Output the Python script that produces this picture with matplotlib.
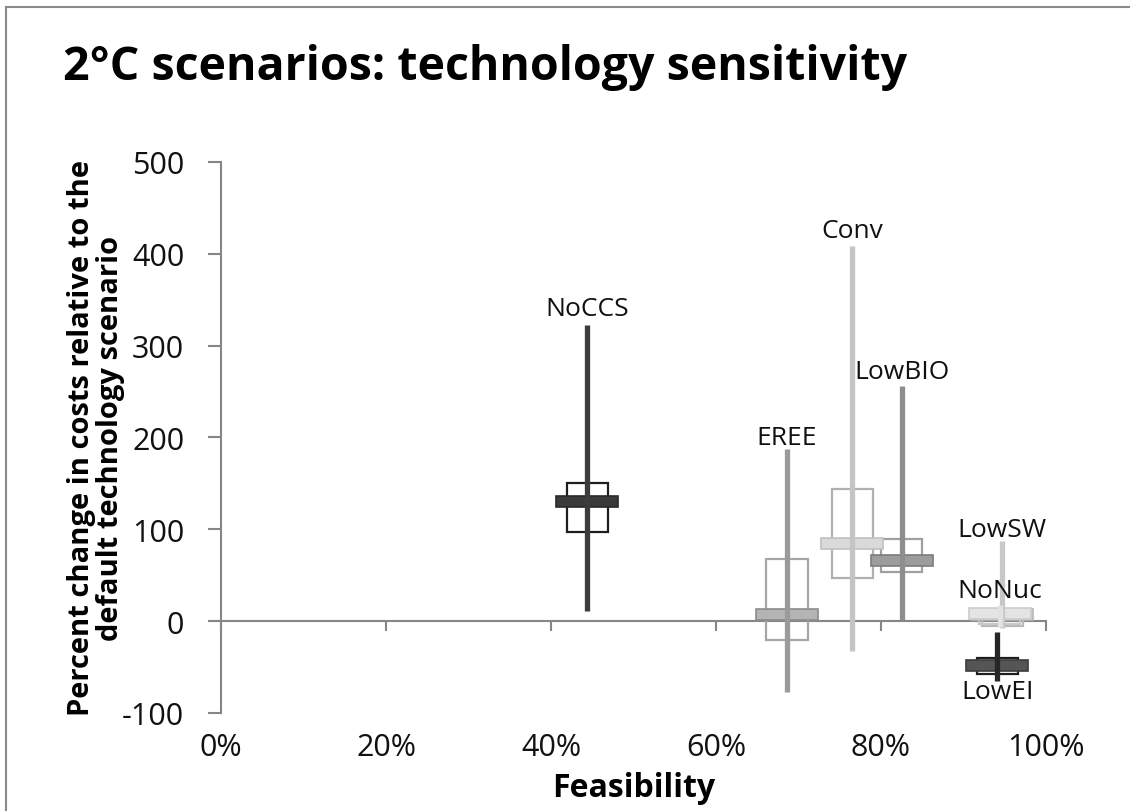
import matplotlib
matplotlib.use("Agg")
import matplotlib.pyplot as plt
from matplotlib.ticker import FuncFormatter

plt.rcParams['font.family'] = ['Open Sans', 'DejaVu Sans']
plt.rcParams['axes.unicode_minus'] = False

# ---- data ----
scenarios   = ["NoCCS", "EREE", "Conv", "LowBIO", "LowSW", "NoNuc", "LowEI"]
feasibility = [44.4, 68.6, 76.5, 82.5, 94.7, 94.4, 94.1]          # %
cost_min    = [11, -77, -33, 1, -7, -6, -65]
cost_max    = [322, 187, 409, 256, 87, 18, -12]
cost_q1     = [97, -21, 47, 53, -5, -3, -57]
cost_q3     = [150, 68, 144, 89, 11, 12, -40]
cost_median = [130, 7, 85, 66, 7, 8, -48]
label_y     = [340, 200, 425, 272, 100, 33, -77]

line_colors = ["#3c3c3c", "#9a9a9a", "#c4c4c4", "#8e8e8e", "#c8c8c8", "#e2e2e2", "#262626"]
box_colors  = ["#1e1e1e", "#a6a6a6", "#b0b0b0", "#a0a0a0", "#b8b8b8", "#c8c8c8", "#1e1e1e"]
med_colors  = ["#3a3a3a", "#b4b4b4", "#dadada", "#9c9c9c", "#d0d0d0", "#e4e4e4", "#555555"]
med_edges   = ["#2a2a2a", "#8c8c8c", "#c0c0c0", "#7c7c7c", "#b8b8b8", "#cccccc", "#3c3c3c"]

xticks = [0, 20, 40, 60, 80, 100]
yticks = [-100, 0, 100, 200, 300, 400, 500]

fig = plt.figure(figsize=(11.3, 8.12), dpi=100)
ax = fig.add_axes([221/1130, 1-714/812, (1046-221)/1130, (714-163)/812])

box_w = 5.0
med_w = 7.5
med_h = 12

for i, name in enumerate(scenarios):
    x = feasibility[i]
    ax.bar(x, cost_q3[i]-cost_q1[i], bottom=cost_q1[i], width=box_w,
           fill=False, edgecolor=box_colors[i], linewidth=1.6, zorder=2)
    ax.bar(x, med_h, bottom=cost_median[i]-med_h/2, width=med_w,
           color=med_colors[i], edgecolor=med_edges[i], linewidth=1.2, zorder=3)
    ax.vlines(x, cost_min[i], cost_max[i], color=line_colors[i], linewidth=3.8, zorder=4)
    ax.text(x, label_y[i], name, ha='center', va='center', fontsize=19, color='#111111', zorder=5)

ax.set_xlim(0, 100)
ax.set_ylim(-100, 500)
ax.set_xticks(xticks)
ax.set_yticks(yticks)
ax.xaxis.set_major_formatter(FuncFormatter(lambda v, p: f"{int(v)}%"))

for s in ['top', 'right', 'bottom']:
    ax.spines[s].set_visible(False)
ax.spines['left'].set_color('#868686')
ax.spines['left'].set_linewidth(1.5)
ax.tick_params(axis='y', direction='out', length=9.5, width=1.5, color='#868686',
               labelsize=22, pad=17, labelcolor='#111111')
ax.tick_params(axis='x', length=0, labelsize=22, pad=14, labelcolor='#111111')

# x axis line at zero with tick marks
sec = ax.secondary_xaxis(1/6)
sec.set_xticks(xticks)
sec.xaxis.set_ticks_position('bottom')
sec.tick_params(axis='x', direction='out', length=7.5, width=1.5, color='#868686',
                labelbottom=False, labeltop=False)
sec.spines['bottom'].set_color('#868686')
sec.spines['bottom'].set_linewidth(1.5)

ax.set_xlabel("Feasibility", fontsize=23, fontweight='bold', labelpad=6)
ax.set_ylabel("Percent change in costs relative to the\ndefault technology scenario",
              fontsize=21, fontweight='bold', linespacing=1.0, va='center')
ax.yaxis.set_label_coords((96-221)/825, 0.5)

fig.text(63/1130, 1-80/812, "2°C scenarios: technology sensitivity", fontsize=33.5,
         fontweight='bold', ha='left', va='baseline')

# chart frame
fig.add_artist(plt.Line2D([6/1130, 6/1130], [0, 1-8/812], color='#8a8a8a', lw=1.5, transform=fig.transFigure))
fig.add_artist(plt.Line2D([6/1130, 1], [1-8/812, 1-8/812], color='#8a8a8a', lw=1.5, transform=fig.transFigure))

fig.savefig("out.png", dpi=100)
